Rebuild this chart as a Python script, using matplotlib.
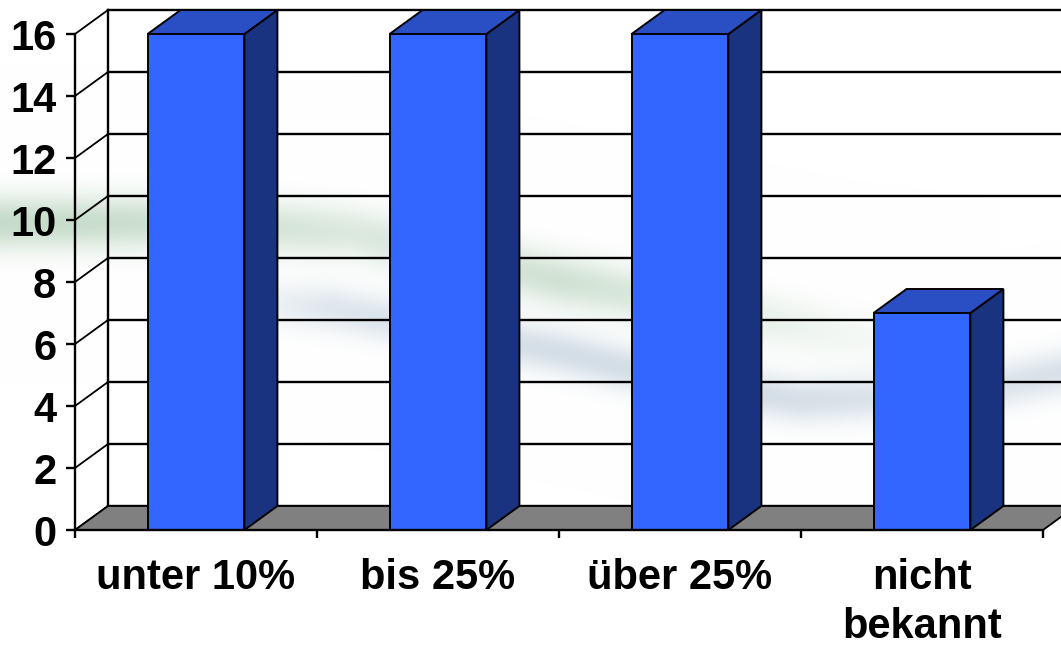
import numpy as np
import matplotlib
matplotlib.use("Agg")
import matplotlib.pyplot as plt
from matplotlib.patches import Polygon

# ---- data ----
categories = ["unter 10%", "bis 25%", "über 25%", "nicht\nbekannt"]
values = [16, 16, 16, 7]
yticks = [0, 2, 4, 6, 8, 10, 12, 14, 16]

# ---- style ----
FRONT = "#3366FF"
TOP = "#2A4FC4"
SIDE = "#1A3380"
FLOOR = "#808080"
FONT = "Liberation Sans"
FS = 30

W, H = 1061, 646
fig = plt.figure(figsize=(W / 100, H / 100), dpi=100)

# decorative background swoosh
bg = fig.add_axes([0, 0, 1, 1], zorder=-5)
yy, xx = np.mgrid[0:H, 0:W].astype(float)
def band(xs, ys, amps, sig):
    yc = np.interp(xx[0], xs, ys)
    a = np.interp(xx[0], xs, amps)
    return a[None, :] * np.exp(-((yy - yc[None, :]) / sig) ** 2 / 2)
ag = band([0, 200, 350, 560, 700, 850, 1000], [222, 222, 232, 280, 306, 335, 350],
          [0.5, 0.42, 0.3, 0.4, 0.26, 0.1, 0.0], 19)
ab = band([200, 330, 560, 700, 800, 950, 1061], [298, 308, 352, 385, 400, 395, 372],
          [0.0, 0.3, 0.4, 0.4, 0.38, 0.3, 0.36], 16)
green = np.array([0.55, 0.72, 0.58])
blue = np.array([0.58, 0.68, 0.76])
img = 1 - ag[..., None] * (1 - green) - ab[..., None] * (1 - blue)
img = np.clip(img, 0, 1)
bg.imshow(img, extent=[0, W, H, 0], aspect="auto", interpolation="bilinear")
bg.set_axis_off()

# main axes: front plane
ax = fig.add_axes([75 / W, 116 / H, 968 / W, 496 / H])
ax.patch.set_alpha(0)
ax.set_xlim(0, 4)
ax.set_ylim(0, 16)

dx = 33 / 242.0
dy = 24 / 31.0
LW = 1.7

# back wall gridlines
for v in yticks:
    ax.plot([dx, 4.5], [v + dy, v + dy], color="black", lw=LW, clip_on=False, zorder=1)
    ax.plot([0, dx], [v, v + dy], color="black", lw=1.3, clip_on=False, zorder=1)
ax.plot([dx, dx], [dy, 16 + dy], color="black", lw=LW, clip_on=False, zorder=1)

# floor
floor = Polygon([(0, 0), (4, 0), (4 + dx, dy), (dx, dy)], closed=True,
                facecolor=FLOOR, edgecolor="black", lw=1.3, clip_on=False, zorder=2)
ax.add_patch(floor)

# bars
xpos = np.arange(len(values)) + 0.5
bw = 0.4
bars = ax.bar(xpos, values, width=bw, color=FRONT, edgecolor="black", lw=1.4, zorder=5, clip_on=False)
for b, v in zip(bars, values):
    x0 = b.get_x()
    x1 = x0 + b.get_width()
    side = Polygon([(x1, 0), (x1 + dx, dy), (x1 + dx, v + dy), (x1, v)], closed=True,
                   facecolor=SIDE, edgecolor="black", lw=1.4, clip_on=False, zorder=4)
    top = Polygon([(x0, v), (x1, v), (x1 + dx, v + dy), (x0 + dx, v + dy)], closed=True,
                  facecolor=TOP, edgecolor="black", lw=1.4, clip_on=False, zorder=4)
    ax.add_patch(side)
    ax.add_patch(top)

# spines and ticks
for s in ["top", "right"]:
    ax.spines[s].set_visible(False)
for s in ["left", "bottom"]:
    ax.spines[s].set_linewidth(1.7)
    ax.spines[s].set_zorder(6)
ax.set_yticks(yticks)
ax.set_yticklabels([str(t) for t in yticks], fontsize=FS, fontweight="bold", family=FONT)
ax.tick_params(axis="y", direction="out", length=6.5, width=1.7, pad=7)
ax.set_xticks([0, 1, 2, 3, 4])
ax.set_xticklabels([])
ax.tick_params(axis="x", which="major", direction="out", length=6, width=1.7)
ax.set_xticks(xpos, minor=True)
ax.set_xticklabels(categories, minor=True, fontsize=FS, fontweight="bold", family=FONT,
                   linespacing=1.3)
ax.tick_params(axis="x", which="minor", length=0, pad=20)

fig.savefig("out.png", dpi=100)
